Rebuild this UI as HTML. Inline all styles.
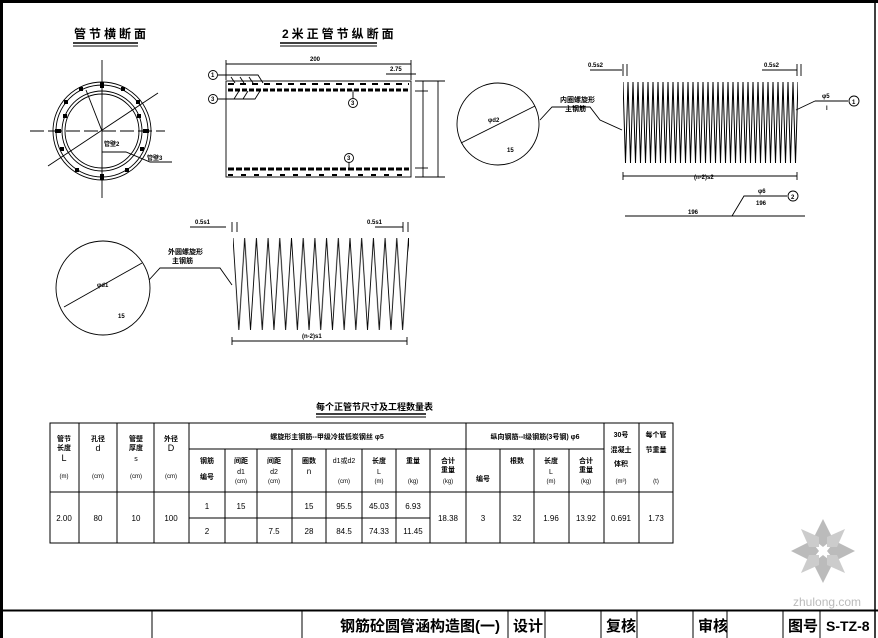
<!DOCTYPE html>
<html><head><meta charset="utf-8"><style>
html,body{margin:0;padding:0;background:#fff;}
svg{display:block;font-family:"Liberation Sans","Noto Sans CJK SC",sans-serif;}
</style></head><body>
<svg width="878" height="638" viewBox="0 0 878 638" xmlns="http://www.w3.org/2000/svg">
<defs>
<pattern id="zz1" patternUnits="userSpaceOnUse" x="623" y="82" width="5" height="81">
<polyline points="0,0 2.5,81 5,0" fill="none" stroke="#000" stroke-width="1"/>
</pattern>
<pattern id="zz2" patternUnits="userSpaceOnUse" x="233" y="238" width="11.7" height="92">
<polyline points="0,0 5.85,92 11.7,0" fill="none" stroke="#000" stroke-width="0.9"/>
</pattern>
</defs>
<rect width="878" height="638" fill="#fff"/>
<rect x="0" y="0" width="878" height="3" fill="#000"/>
<rect x="0" y="0" width="3" height="638" fill="#000"/>
<line x1="875" y1="0" x2="875" y2="638" stroke="#000" stroke-width="1.5"/>
<line x1="0" y1="610.5" x2="878" y2="610.5" stroke="#000" stroke-width="2"/>
<g stroke="#000" stroke-width="1">
<line x1="152" y1="611" x2="152" y2="638"/><line x1="302" y1="611" x2="302" y2="638"/>
<line x1="508" y1="611" x2="508" y2="638"/><line x1="545" y1="611" x2="545" y2="638"/>
<line x1="601" y1="611" x2="601" y2="638"/><line x1="637" y1="611" x2="637" y2="638"/>
<line x1="693" y1="611" x2="693" y2="638"/><line x1="727" y1="611" x2="727" y2="638"/>
<line x1="783" y1="611" x2="783" y2="638"/><line x1="820" y1="611" x2="820" y2="638"/>
</g>
<g font-size="15" font-weight="bold" fill="#000">
<text x="340" y="631">钢筋砼圆管涵构造图(一)</text>
<text x="513" y="631">设计</text>
<text x="606" y="631">复核</text>
<text x="698" y="631">审核</text>
<text x="788" y="631">图号</text>
<text x="826" y="631" font-size="14">S-TZ-8</text>
</g>

<g font-size="12" font-weight="bold">
<text x="74" y="38" letter-spacing="3">管节横断面</text>
<text x="282" y="38" letter-spacing="3">2米正管节纵断面</text>
</g>
<g stroke="#000"><line x1="73" y1="43" x2="138" y2="43" stroke-width="1.5"/><line x1="73" y1="46" x2="138" y2="46"/>
<line x1="280" y1="43" x2="377" y2="43" stroke-width="1.5"/><line x1="280" y1="46" x2="377" y2="46"/></g>

<g fill="none" stroke="#000" stroke-width="0.9">
<line x1="102" y1="60" x2="102" y2="198"/>
<line x1="30" y1="131" x2="165" y2="131" stroke-dasharray="14,4"/>
<circle cx="102" cy="131" r="49"/><circle cx="102" cy="131" r="46"/>
<circle cx="102" cy="131" r="40"/><circle cx="102" cy="131" r="37"/>
<line x1="48" y1="166" x2="158" y2="93"/>
<line x1="102" y1="131" x2="86" y2="90"/>
<polyline points="102,152 126,152 150,162 172,162"/>
</g>
<g fill="#000">
<rect x="100" y="82" width="4" height="6"/><rect x="100" y="174" width="4" height="6"/>
<rect x="55" y="129" width="6" height="4"/><rect x="143" y="129" width="6" height="4"/>
<rect x="121" y="87" width="4" height="4"/><rect x="79" y="87" width="4" height="4"/>
<rect x="136" y="100" width="4" height="4"/><rect x="64" y="100" width="4" height="4"/>
<rect x="140" y="147" width="4" height="4"/><rect x="60" y="147" width="4" height="4"/>
<rect x="125" y="168" width="4" height="4"/><rect x="75" y="168" width="4" height="4"/>
<rect x="137" y="114" width="4" height="4"/><rect x="63" y="114" width="4" height="4"/>
</g>
<g font-size="6" font-weight="bold"><text x="104" y="146">管壁2</text><text x="147" y="160">管壁3</text></g>

<g fill="none" stroke="#000" stroke-width="0.9">
<rect x="226" y="81" width="185" height="96"/>
<line x1="226" y1="64" x2="411" y2="64"/><line x1="226" y1="60" x2="226" y2="80"/><line x1="411" y1="60" x2="411" y2="80"/>
<line x1="386" y1="74" x2="416" y2="74"/>
<line x1="415" y1="81" x2="445" y2="81"/><line x1="415" y1="177" x2="445" y2="177"/>
<line x1="423" y1="81" x2="423" y2="177"/><line x1="438" y1="81" x2="438" y2="177"/>
<line x1="415" y1="91" x2="428" y2="91"/><line x1="415" y1="168" x2="428" y2="168"/>
<circle cx="213" cy="75" r="4.5"/><circle cx="213" cy="99" r="4.5"/>
<circle cx="353" cy="103" r="4.5"/><circle cx="349" cy="158" r="4.5"/>
<polyline points="218,75 258,75 263,83"/>
<line x1="231" y1="77" x2="235" y2="83"/><line x1="240" y1="77" x2="244" y2="83"/><line x1="249" y1="77" x2="253" y2="83"/>
<polyline points="218,99 255,99 260,91"/>
<line x1="234" y1="99" x2="239" y2="91"/><line x1="243" y1="99" x2="248" y2="91"/>
<line x1="353" y1="98" x2="353" y2="90"/><line x1="349" y1="163" x2="349" y2="170"/>
</g>
<g stroke="#000">
<line x1="228" y1="84" x2="409" y2="84" stroke-width="2" stroke-dasharray="6,6"/>
<line x1="228" y1="90" x2="409" y2="90" stroke-width="3" stroke-dasharray="5,2"/>
<line x1="228" y1="169" x2="409" y2="169" stroke-width="3" stroke-dasharray="6,2"/>
<line x1="228" y1="175" x2="409" y2="175" stroke-width="2" stroke-dasharray="5,8"/>
</g>
<g font-size="6" font-weight="bold"><text x="310" y="61">200</text><text x="390" y="71">2.75</text>
<text x="211" y="77">1</text><text x="211" y="101">3</text><text x="351" y="105">3</text><text x="347" y="160">3</text></g>

<g fill="none" stroke="#000" stroke-width="0.9">
<circle cx="498" cy="124" r="41"/>
<line x1="461" y1="143" x2="535" y2="106"/>
<polyline points="540,120 552,107 590,107 600,120 622,130"/>
<line x1="796" y1="110" x2="815" y2="101"/><line x1="815" y1="101" x2="848" y2="101"/>
<circle cx="854" cy="101" r="5"/>
<line x1="623" y1="176" x2="797" y2="176"/><line x1="623" y1="172" x2="623" y2="180"/><line x1="797" y1="172" x2="797" y2="180"/>
<line x1="590" y1="70" x2="622" y2="70"/><line x1="762" y1="70" x2="797" y2="70"/>
<line x1="623" y1="64" x2="623" y2="76"/><line x1="627" y1="64" x2="627" y2="76"/>
<line x1="797" y1="64" x2="797" y2="76"/><line x1="801" y1="64" x2="801" y2="76"/>
<line x1="625" y1="216" x2="805" y2="216"/>
<polyline points="732,216 744,196 787,196"/><circle cx="793" cy="196" r="5"/>
</g>
<rect x="623" y="82" width="175" height="81" fill="url(#zz1)"/>
<g font-size="6" font-weight="bold">
<text x="588" y="67">0.5s2</text><text x="764" y="67">0.5s2</text>
<text x="560" y="102" font-size="7">内圈螺旋形</text><text x="565" y="111" font-size="7">主钢筋</text>
<text x="488" y="122">φd2</text><text x="507" y="152">15</text>
<text x="694" y="179">(n-2)s2</text><text x="822" y="98">φ5</text><text x="826" y="110">l</text>
<text x="852" y="104">1</text><text x="758" y="193">φ6</text><text x="756" y="205">196</text>
<text x="688" y="214">196</text><text x="791" y="199">2</text>
</g>

<g fill="none" stroke="#000" stroke-width="0.9">
<circle cx="103" cy="288" r="47"/>
<line x1="64" y1="307" x2="142" y2="263"/>
<polyline points="149,280 160,268 220,268 232,285"/>
<line x1="232" y1="341" x2="407" y2="341"/><line x1="232" y1="337" x2="232" y2="345"/><line x1="407" y1="337" x2="407" y2="345"/>
<line x1="190" y1="227" x2="226" y2="227"/><line x1="375" y1="227" x2="403" y2="227"/>
<line x1="232" y1="222" x2="232" y2="232"/><line x1="237" y1="222" x2="237" y2="232"/>
<line x1="403" y1="222" x2="403" y2="232"/><line x1="408" y1="222" x2="408" y2="232"/>
</g>
<rect x="233" y="238" width="176" height="92" fill="url(#zz2)"/>
<g font-size="6" font-weight="bold">
<text x="195" y="224">0.5s1</text><text x="367" y="224">0.5s1</text>
<text x="168" y="254" font-size="7">外圆螺旋形</text><text x="172" y="263" font-size="7">主钢筋</text>
<text x="97" y="287">φd1</text><text x="118" y="318">15</text><text x="302" y="338">(n-2)s1</text>
</g>

<text x="316" y="410" font-size="9" font-weight="bold">每个正管节尺寸及工程数量表</text>
<line x1="316" y1="414" x2="426" y2="414" stroke="#000" stroke-width="1.5"/>
<line x1="316" y1="417" x2="426" y2="417" stroke="#000"/>

<g fill="none" stroke="#000" stroke-width="1">
<rect x="50" y="423" width="623" height="120"/>
<line x1="79" y1="423" x2="79" y2="543"/><line x1="117" y1="423" x2="117" y2="543"/>
<line x1="154" y1="423" x2="154" y2="543"/><line x1="189" y1="423" x2="189" y2="543"/>
<line x1="225" y1="449" x2="225" y2="543"/><line x1="257" y1="449" x2="257" y2="543"/>
<line x1="292" y1="449" x2="292" y2="543"/><line x1="326" y1="449" x2="326" y2="543"/>
<line x1="362" y1="449" x2="362" y2="543"/><line x1="396" y1="449" x2="396" y2="543"/>
<line x1="430" y1="449" x2="430" y2="543"/><line x1="466" y1="423" x2="466" y2="543"/>
<line x1="500" y1="449" x2="500" y2="543"/><line x1="534" y1="449" x2="534" y2="543"/>
<line x1="569" y1="449" x2="569" y2="543"/><line x1="604" y1="423" x2="604" y2="543"/>
<line x1="639" y1="423" x2="639" y2="543"/>
<line x1="189" y1="449" x2="604" y2="449"/>
<line x1="50" y1="492" x2="673" y2="492"/>
<line x1="189" y1="518" x2="430" y2="518"/>
</g>
<g font-size="7" font-weight="bold" text-anchor="middle">
<text x="64" y="441">管节</text><text x="64" y="450">长度</text>
<text x="98" y="441">孔径</text><text x="136" y="441">管壁</text><text x="136" y="450">厚度</text>
<text x="171" y="441">外径</text>
<text x="327" y="439">螺旋形主钢筋--甲级冷拔低炭钢丝 φ5</text>
<text x="207" y="463">钢筋</text><text x="207" y="479">编号</text>
<text x="241" y="463">间距</text><text x="274" y="463">间距</text><text x="309" y="463">圈数</text>
<text x="379" y="463">长度</text><text x="413" y="463">重量</text>
<text x="448" y="463">合计</text><text x="448" y="472">重量</text>
<text x="535" y="439">纵向钢筋--I级钢筋(3号钢) φ6</text>
<text x="483" y="481">编号</text><text x="517" y="463">根数</text><text x="551" y="463">长度</text>
<text x="586" y="463">合计</text><text x="586" y="472">重量</text>
<text x="621" y="437">30号</text><text x="621" y="452">混凝土</text><text x="621" y="466">体积</text>
<text x="656" y="437">每个管</text><text x="656" y="452">节重量</text>
</g>
<g font-size="9" text-anchor="middle">
<text x="64" y="461">L</text><text x="64" y="478" font-size="6">(m)</text>
<text x="98" y="451">d</text><text x="98" y="478" font-size="6">(cm)</text>
<text x="136" y="461" font-size="7">s</text><text x="136" y="478" font-size="6">(cm)</text>
<text x="171" y="451">D</text><text x="171" y="478" font-size="6">(cm)</text>
<text x="241" y="474" font-size="7">d1</text><text x="241" y="483" font-size="6">(cm)</text>
<text x="274" y="474" font-size="7">d2</text><text x="274" y="483" font-size="6">(cm)</text>
<text x="309" y="474" font-size="8">n</text>
<text x="344" y="463" font-size="7">d1或d2</text><text x="344" y="483" font-size="6">(cm)</text>
<text x="379" y="474" font-size="7">L</text><text x="379" y="483" font-size="6">(m)</text>
<text x="413" y="483" font-size="6">(kg)</text>
<text x="448" y="483" font-size="6">(kg)</text>
<text x="551" y="474" font-size="7">L</text><text x="551" y="483" font-size="6">(m)</text>
<text x="586" y="483" font-size="6">(kg)</text>
<text x="621" y="483" font-size="6">(m³)</text><text x="656" y="483" font-size="6">(t)</text>
</g>
<g font-size="8" text-anchor="middle">
<text x="64" y="521">2.00</text><text x="98" y="521">80</text><text x="136" y="521">10</text><text x="171" y="521">100</text>
<text x="207" y="509">1</text><text x="241" y="509">15</text><text x="309" y="509">15</text><text x="344" y="509">95.5</text><text x="379" y="509">45.03</text><text x="413" y="509">6.93</text>
<text x="207" y="534">2</text><text x="274" y="534">7.5</text><text x="309" y="534">28</text><text x="344" y="534">84.5</text><text x="379" y="534">74.33</text><text x="413" y="534">11.45</text>
<text x="448" y="521">18.38</text><text x="483" y="521">3</text><text x="517" y="521">32</text><text x="551" y="521">1.96</text><text x="586" y="521">13.92</text><text x="621" y="521">0.691</text><text x="656" y="521">1.73</text>
</g>

<g fill="#bbb" transform="translate(823,551)">
<polygon points="0,-32 10,-12 0,-4 -10,-12"/>
<polygon points="0,32 10,12 0,4 -10,12"/>
<polygon points="-32,0 -12,10 -4,0 -12,-10"/>
<polygon points="32,0 12,10 4,0 12,-10"/>
<polygon points="-22,-22 -4,-14 -4,-4 -14,-4" fill="#ccc"/>
<polygon points="22,-22 4,-14 4,-4 14,-4" fill="#ccc"/>
<polygon points="-22,22 -4,14 -4,4 -14,4" fill="#ccc"/>
<polygon points="22,22 4,14 4,4 14,4" fill="#ccc"/>
</g>
<text x="793" y="606" font-size="12" fill="#bbb">zhulong.com</text>
</svg>
</body></html>
